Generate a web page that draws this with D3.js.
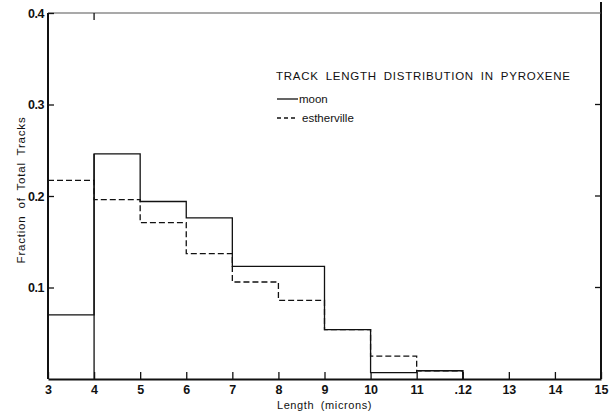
<!DOCTYPE html>
<html>
<head>
<meta charset="utf-8">
<script src="https://cdn.jsdelivr.net/npm/d3@7"></script>
<style>
  body { margin: 0; background: #fff; }
  text { font-family: "Liberation Sans", Arial, sans-serif; fill: #111; }
</style>
</head>
<body>
<div id="chart"></div>
<script>
// bin edges (microns) and fraction of tracks in each bin
var binStarts = [3, 4, 5, 6, 7, 8, 9, 10, 11]
var moon = [0.070, 0.246, 0.194, 0.176, 0.123, 0.123, 0.054, 0.007, 0.009]
var estherville = [0.217, 0.196, 0.171, 0.137, 0.106, 0.086, 0.054, 0.025, 0.009]
var xTicks = [3, 4, 5, 6, 7, 8, 9, 10, 11, 12, 13, 14, 15]
var xTickLabels = ['3', '4', '5', '6', '7', '8', '9', '10', '11', '.12', '13', '14', '15']
var yTicks = [0.1, 0.2, 0.3, 0.4]
var yTickLabels = ['0.1', '0.2', '0.3', '0.4']

var width = 610
var height = 414

var svg = d3.select('#chart')
  .append('svg')
  .attr('width', width)
  .attr('height', height)

var x = d3.scaleLinear().domain([3, 15]).range([48, 601])
var y = d3.scaleLinear().domain([0, 0.4]).range([379, 13])

// frame
svg.append('line').attr('x1', x(3)).attr('x2', x(3)).attr('y1', y(0.4)).attr('y2', y(0))
  .attr('stroke', '#111').attr('stroke-width', 2)
svg.append('line').attr('x1', x(15)).attr('x2', x(15)).attr('y1', 2).attr('y2', y(0))
  .attr('stroke', '#111').attr('stroke-width', 2)
svg.append('line').attr('x1', x(3)).attr('x2', x(15)).attr('y1', y(0.4)).attr('y2', y(0.4))
  .attr('stroke', '#555').attr('stroke-width', 1.2)

// bottom axis, ticks pointing inward
var xAxis = svg.append('g')
  .attr('transform', 'translate(0,' + y(0) + ')')
  .call(d3.axisBottom(x).tickValues(xTicks).tickSizeInner(-7).tickSizeOuter(0).tickPadding(6)
    .tickFormat((d, i) => xTickLabels[i]))
xAxis.select('.domain').attr('stroke', '#111').attr('stroke-width', 2)
xAxis.selectAll('.tick line').attr('stroke', '#111').attr('stroke-width', 1.3)
xAxis.selectAll('.tick text').attr('font-size', '12.5px').attr('font-weight', 'bold').attr('fill', '#111')

// left axis, ticks pointing inward
var yAxis = svg.append('g')
  .attr('transform', 'translate(' + x(3) + ',0)')
  .call(d3.axisLeft(y).tickValues(yTicks).tickSizeInner(-6).tickSizeOuter(0).tickPadding(4)
    .tickFormat((d, i) => yTickLabels[i]))
yAxis.select('.domain').remove()
yAxis.selectAll('.tick line').attr('stroke', '#111').attr('stroke-width', 1.3)
yAxis.selectAll('.tick text').attr('font-size', '12.5px').attr('font-weight', 'bold').attr('fill', '#111')
  .attr('letter-spacing', '-0.5px')

// right side ticks
svg.selectAll('.rtick')
  .data([0.1, 0.2, 0.3])
  .enter()
  .append('line')
  .attr('x1', x(15) - 6).attr('x2', x(15))
  .attr('y1', d => y(d)).attr('y2', d => y(d))
  .attr('stroke', '#111').attr('stroke-width', 1.3)

// top tick at 4
svg.append('line').attr('x1', x(4)).attr('x2', x(4)).attr('y1', y(0.4)).attr('y2', y(0.4) + 7)
  .attr('stroke', '#111').attr('stroke-width', 1.3)

// step histograms
function stepPoints(vals) {
  var pts = vals.map((v, i) => [binStarts[i], v])
  var last = binStarts[binStarts.length - 1] + 1
  pts.push([last, vals[vals.length - 1]])
  pts.push([last, 0])
  return pts
}

var line = d3.line()
  .x(d => x(d[0]))
  .y(d => y(d[1]))
  .curve(d3.curveStepAfter)

// moon drops from top of first bin back to baseline at x=4
svg.append('path')
  .datum(stepPoints(moon))
  .attr('d', line)
  .attr('fill', 'none')
  .attr('stroke', '#111')
  .attr('stroke-width', 1.3)
svg.append('line')
  .attr('x1', x(4)).attr('x2', x(4)).attr('y1', y(moon[1])).attr('y2', y(0))
  .attr('stroke', '#111').attr('stroke-width', 1.3)

svg.append('path')
  .datum(stepPoints(estherville))
  .attr('d', line)
  .attr('fill', 'none')
  .attr('stroke', '#111')
  .attr('stroke-width', 1.3)
  .attr('stroke-dasharray', '6,3')

// title and legend
svg.append('text')
  .attr('x', 276).attr('y', 80)
  .attr('font-size', '11.5px')
  .attr('letter-spacing', '0.75px')
  .attr('word-spacing', '3px')
  .text('TRACK LENGTH DISTRIBUTION IN PYROXENE')

svg.append('line').attr('x1', 277).attr('x2', 298).attr('y1', 99).attr('y2', 99)
  .attr('stroke', '#111').attr('stroke-width', 1.3)
svg.append('text').attr('x', 299).attr('y', 103).attr('font-size', '11.5px').text('moon')

svg.append('line').attr('x1', 277).attr('x2', 298).attr('y1', 118).attr('y2', 118)
  .attr('stroke', '#111').attr('stroke-width', 1.3).attr('stroke-dasharray', '4,3')
svg.append('text').attr('x', 302).attr('y', 122).attr('font-size', '11.5px').text('estherville')

// axis titles
svg.append('text')
  .attr('x', x(9)).attr('y', 409)
  .attr('text-anchor', 'middle')
  .attr('font-size', '11px')
  .attr('letter-spacing', '0.6px')
  .attr('word-spacing', '3px')
  .text('Length  (microns)')

svg.append('text')
  .attr('transform', 'translate(25,' + 190 + ') rotate(-90)')
  .attr('text-anchor', 'middle')
  .attr('font-size', '11.5px')
  .attr('letter-spacing', '0.8px')
  .attr('word-spacing', '3px')
  .text('Fraction of Total Tracks')
</script>
</body>
</html>
